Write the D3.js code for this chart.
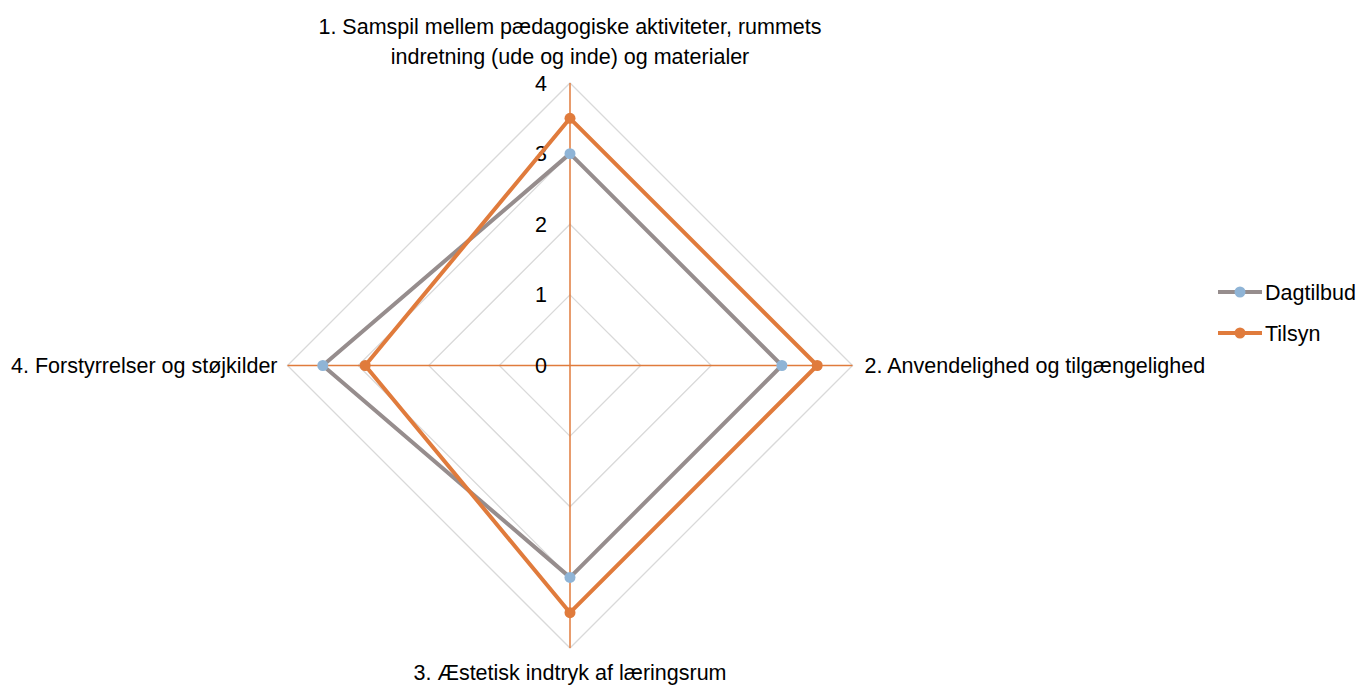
<!DOCTYPE html>
<html>
<head>
<meta charset="utf-8">
<script src="https://cdn.jsdelivr.net/npm/d3@7"></script>
<style>
  body { margin: 0; background: #fff; }
  svg text { font-family: "Liberation Sans Narrow", "Arial Narrow", "Liberation Sans", Arial, sans-serif; fill: #000; }
</style>
</head>
<body>
<svg id="chart" width="1359" height="686"></svg>
<script>
const categories = [
  ["1. Samspil mellem pædagogiske aktiviteter, rummets", "indretning (ude og inde) og materialer"],
  ["2. Anvendelighed og tilgængelighed"],
  ["3. Æstetisk indtryk af læringsrum"],
  ["4. Forstyrrelser og støjkilder"]
];
const seriesNames = ["Dagtilbud", "Tilsyn"];
const dagtilbud = [3, 3, 3, 3.5];
const tilsyn = [3.5, 3.5, 3.5, 2.9];
const ticks = [0, 1, 2, 3, 4];

const lineColors = ["#968d8d", "#e07b3c"];
const markerColors = ["#8fb4d6", "#e07b3c"];

const width = 1359, height = 686;
const cx = 570, cy = 365.5, R = 282.5;

const svg = d3.select("#chart");
const g = svg.append("g").attr("transform", `translate(${cx},${cy})`);

const r = d3.scaleLinear().domain([0, 4]).range([0, R]);
const angle = d3.scaleLinear().domain([0, categories.length]).range([0, 2 * Math.PI]);

const px = (i, v) => r(v) * Math.sin(angle(i));
const py = (i, v) => -r(v) * Math.cos(angle(i));

// grid
const gridLine = d3.lineRadial().angle((d, i) => angle(i)).radius(d => r(d)).curve(d3.curveLinearClosed);
ticks.filter(t => t > 0).forEach(t => {
  g.append("path")
    .attr("d", gridLine(categories.map(() => t)))
    .attr("fill", "none")
    .attr("stroke", "#d9d9d9")
    .attr("stroke-width", 1.3);
});

// spokes
categories.forEach((c, i) => {
  g.append("line")
    .attr("x1", 0).attr("y1", 0)
    .attr("x2", px(i, 4)).attr("y2", py(i, 4))
    .attr("stroke", "#e07b3c")
    .attr("stroke-width", 1.5);
});

const fs = 21.5;

// tick labels
g.selectAll(".tick")
  .data(ticks)
  .join("text")
  .attr("x", -29)
  .attr("y", d => -r(d))
  .attr("dy", "0.35em")
  .attr("text-anchor", "middle")
  .attr("font-size", fs)
  .text(d => d);

// series
const series = [dagtilbud, tilsyn];
const line = d3.lineRadial().angle((d, i) => angle(i)).radius(d => r(d)).curve(d3.curveLinearClosed);
series.forEach((vals, s) => {
  g.append("path")
    .attr("d", line(vals))
    .attr("fill", "none")
    .attr("stroke", lineColors[s])
    .attr("stroke-width", 4)
    .attr("stroke-linejoin", "round");
  g.selectAll(".m" + s)
    .data(vals)
    .join("circle")
    .attr("cx", (d, i) => px(i, d))
    .attr("cy", (d, i) => py(i, d))
    .attr("r", 5.5)
    .attr("fill", markerColors[s]);
});

// category labels
const lab = g.append("g").attr("font-size", fs);
lab.append("text").attr("text-anchor", "middle").attr("y", -R - 49)
  .selectAll("tspan").data(categories[0]).join("tspan")
  .attr("x", 0).attr("dy", (d, i) => i ? 30 : 0).text(d => d);
lab.append("text").attr("x", R + 12).attr("y", 0).attr("dy", "0.35em").text(categories[1][0]);
lab.append("text").attr("text-anchor", "middle").attr("y", R + 24).attr("dy", "0.35em").text(categories[2][0]);
lab.append("text").attr("text-anchor", "end").attr("x", -R - 10).attr("y", 0).attr("dy", "0.35em").text(categories[3][0]);

// legend
const legend = svg.append("g").attr("transform", "translate(1218,292)");
seriesNames.forEach((name, s) => {
  const row = legend.append("g").attr("transform", `translate(0,${s * 41})`);
  row.append("line").attr("x1", 0).attr("x2", 44).attr("y1", 0).attr("y2", 0)
    .attr("stroke", lineColors[s]).attr("stroke-width", 4);
  row.append("circle").attr("cx", 22).attr("cy", 0).attr("r", 5.5).attr("fill", markerColors[s]);
  row.append("text").attr("x", 47).attr("y", 0).attr("dy", "0.35em").attr("font-size", fs).text(name);
});
</script>
</body>
</html>
